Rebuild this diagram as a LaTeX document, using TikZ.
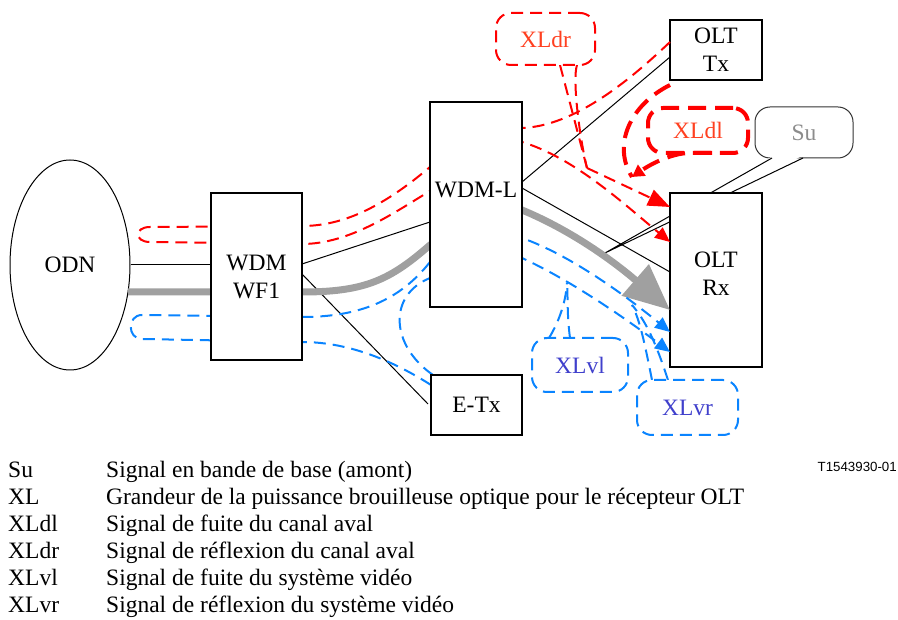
\documentclass[tikz,border=0pt]{standalone}
\usepackage{fontspec}
\setmainfont{Liberation Serif}
\setsansfont{Liberation Sans}
\usetikzlibrary{arrows.meta,shapes.geometric}
\definecolor{sigred}{RGB}{255,0,0}
\definecolor{sigblue}{RGB}{10,132,255}
\definecolor{lblred}{RGB}{255,64,32}
\definecolor{lblblue}{RGB}{64,64,204}
\definecolor{siggray}{RGB}{160,160,160}
\begin{document}
\begin{tikzpicture}[x=1pt,y=-1pt,
  every node/.style={font=\fontsize{23.5}{28}\selectfont, inner sep=0pt},
  box/.style={draw, line width=1.2pt, fill=white, align=center},
  thinline/.style={draw=black, line width=1pt},
  redsig/.style={draw=sigred, line width=2pt, dash pattern=on 12pt off 7pt},
  thickred/.style={draw=sigred, line width=4pt, dash pattern=on 18pt off 9pt},
  bluesig/.style={draw=sigblue, line width=2pt, dash pattern=on 12pt off 7pt},
  graysig/.style={draw=siggray, line width=7pt},
  redcall/.style={draw=sigred, line width=2pt, dash pattern=on 12pt off 7pt, rounded corners=15pt, text=lblred},
  bluecall/.style={draw=sigblue, line width=2pt, dash pattern=on 12pt off 7pt, rounded corners=15pt, text=lblblue},
  legkey/.style={anchor=base west},
  smallarrow/.style={-{Triangle[length=15pt,width=13pt]}},
]
\useasboundingbox (0,0) rectangle (898,620);

% Su callout (under OLT Rx)
\node[draw=black!80, line width=1pt, rounded corners=15pt, minimum width=98pt, minimum height=51pt, text=black!45] (su) at (804,132.5) {Su};
\fill[white] (773,156) -- (802,156) -- (605,253) -- cycle;
\draw[thinline] (772,158) -- (605,253) -- (803,158);

% ODN
\node[ellipse, draw, line width=1pt, minimum width=120pt, minimum height=210pt] (odn) at (70,265) {ODN};

\coordinate (wf1w) at (211,265);

% black fibre lines
\draw[thinline] (odn.east) -- (wf1w);
\draw[thinline] (302,264) -- (430,222);
\draw[thinline] (302,274) -- (428,404);
\draw[thinline] (522,182) -- (670,57);
\draw[thinline] (522,188) -- (670,272);

% OLT boxes
\node[box, minimum width=92pt, minimum height=174pt] (oltrx) at (716,280) {};
\node[align=center] (oltrxtxt) at (716,274) {OLT\\Rx};
\node[box, minimum width=92pt, minimum height=60pt] (olttx) at (716,50) {OLT\\Tx};

% gray main signal
\draw[graysig, -{Triangle[length=46pt 0 0,width=40pt 0 0]}]
  (128,292) -- (302,292) .. controls (365,292) and (390,280) .. (430,245)
  -- (522,210) .. controls (575,232) and (618,265) .. (670,310);

% red downstream reflection path
\draw[redsig, smallarrow]
  (670,42) .. controls (630,80) and (575,126) .. (522,128)
  -- (430,167) .. controls (385,205) and (345,226) .. (302,226)
  -- (150,227) .. controls (134,227) and (134,242) .. (150,242)
  -- (302,244) .. controls (350,244) and (395,212) .. (430,191)
  -- (522,142) .. controls (575,158) and (625,205) .. (670,242);

% blue video reflection path
\draw[bluesig, smallarrow]
  (431,385) .. controls (395,362) and (350,342) .. (302,342)
  -- (142,339) .. controls (127,339) and (127,315) .. (142,315)
  -- (302,317) .. controls (360,317) and (400,300) .. (430,262)
  -- (522,238) .. controls (570,255) and (625,295) .. (670,332);
% blue video leakage path
\draw[bluesig, smallarrow]
  (433,375) .. controls (390,345) and (388,295) .. (430,278)
  -- (522,258) .. controls (570,280) and (625,318) .. (670,352);

% boxes covering hidden parts
\node[box, minimum width=91pt, minimum height=167pt] (wf1) at (256.5,276.5) {WDM\\WF1};
\node[box, minimum width=92pt, minimum height=205pt] (wdml) at (476,204.5) {};
\node (wdmltxt) at (476,190) {WDM-L};
\node[box, minimum width=91pt, minimum height=60pt] (etx) at (476.5,405) {E-Tx};

% XLdr callout
\draw[redsig] (560,65) -- (587,168);
\draw[redsig] (577,65) .. controls (572,80) and (580,140) .. (587,168);
\draw[redsig, -{Triangle[length=22pt,width=17pt]}] (587,168) -- (670,207);
\node[redcall, fill=white, minimum width=99pt, minimum height=52pt] (xldr) at (545.5,39) {XLdr};

% XLdl callout
\draw[thickred] (670,85) .. controls (630,105) and (612,145) .. (632,177);
\draw[thickred, -{Triangle[length=12pt,width=13pt]}] (712,153) -- (687,153) .. controls (665,155) and (645,168) .. (632,177);
\node[thickred, rounded corners=15pt, text=lblred, minimum width=100pt, minimum height=45pt] (xldl) at (698,130.5) {XLdl};

% XLvl callout
\draw[bluesig] (549,338) .. controls (560,320) and (566,300) .. (567,283);
\draw[bluesig] (570,338) .. controls (567,315) and (568,300) .. (567,283);
\node[bluecall, fill=white, minimum width=96pt, minimum height=54pt] (xlvl) at (580,365) {XLvl};

% XLvr callout
\draw[bluesig] (652,380) .. controls (645,345) and (640,320) .. (632,305);
\draw[bluesig] (668,380) .. controls (655,340) and (645,320) .. (632,305);
\node[bluecall, fill=white, minimum width=101pt, minimum height=55pt] (xlvr) at (687.5,407.5) {XLvr};

% figure number
\node[anchor=base east, font=\sffamily\fontsize{13.3}{15}\selectfont] (fig) at (897,472) {T1543930-01};

% legend
\node[legkey] (k1) at (8,478) {Su};
\node[legkey] (d1) at (106,478) {Signal en bande de base (amont)};
\node[legkey] (k2) at (8,505) {XL};
\node[legkey] (d2) at (106,505) {Grandeur de la puissance brouilleuse optique pour le récepteur OLT};
\node[legkey] (k3) at (8,532) {XLdl};
\node[legkey] (d3) at (106,532) {Signal de fuite du canal aval};
\node[legkey] (k4) at (8,558.5) {XLdr};
\node[legkey] (d4) at (106,558.5) {Signal de réflexion du canal aval};
\node[legkey] (k5) at (8,585.5) {XLvl};
\node[legkey] (d5) at (106,585.5) {Signal de fuite du système vidéo};
\node[legkey] (k6) at (8,612) {XLvr};
\node[legkey] (d6) at (106,612) {Signal de réflexion du système vidéo};
\end{tikzpicture}
\end{document}
